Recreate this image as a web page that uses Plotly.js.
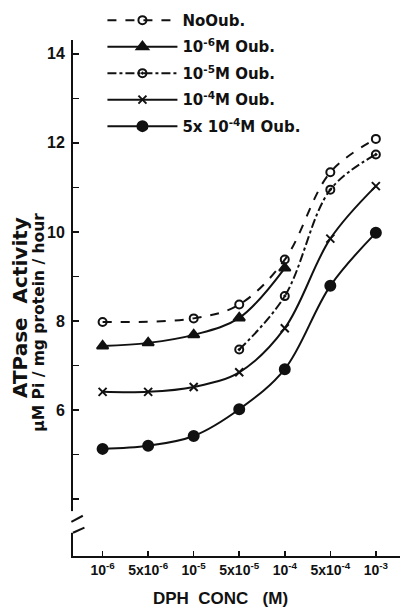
<!DOCTYPE html>
<html>
<head>
<meta charset="utf-8">
<script src="https://cdn.plot.ly/plotly-3.0.1.min.js"></script>
<style>html,body{margin:0;padding:0;background:#fff;}#chart{width:404px;height:614px;}</style>
</head>
<body>
<div id="chart"></div>
<script>
// Categories (DPH concentration, M) and tick labels
const concentrations = ['1e-6', '5e-6', '1e-5', '5e-5', '1e-4', '5e-4', '1e-3'];
const concLabels = ['10<sup>-6</sup>', '5x10<sup>-6</sup>', '10<sup>-5</sup>', '5x10<sup>-5</sup>', '10<sup>-4</sup>', '5x10<sup>-4</sup>', '10<sup>-3</sup>'];

// Series: ATPase activity (µM Pi / mg protein / hour)
const noOubX = ['1e-6', '1e-5', '5e-5', '1e-4', '5e-4', '1e-3'];
const noOubY = [7.98, 8.06, 8.37, 9.38, 11.34, 12.09];

const oub1e6X = ['1e-6', '5e-6', '1e-5', '5e-5', '1e-4'];
const oub1e6Y = [7.44, 7.51, 7.69, 8.07, 9.19];

const oub1e5X = ['5e-5', '1e-4', '5e-4', '1e-3'];
const oub1e5Y = [7.36, 8.56, 10.95, 11.74];

const oub1e4X = ['1e-6', '5e-6', '1e-5', '5e-5', '1e-4', '5e-4', '1e-3'];
const oub1e4Y = [6.41, 6.41, 6.52, 6.85, 7.84, 9.85, 11.03];

const oub5e4X = ['1e-6', '5e-6', '1e-5', '5e-5', '1e-4', '5e-4', '1e-3'];
const oub5e4Y = [5.13, 5.20, 5.42, 6.02, 6.92, 8.79, 9.98];

const seriesNames = ['NoOub.', '10<sup>-6</sup>M Oub.', '10<sup>-5</sup>M Oub.', '10<sup>-4</sup>M Oub.', '5x 10<sup>-4</sup>M Oub.'];

const yTickVals = [4, 5, 6, 7, 8, 9, 10, 11, 12, 13, 14];
const yTickText = ['', '', '6', '', '8', '', '10', '', '12', '', '14'];

const black = '#111';
function tr(x, y, name, sym, size, dash, grp) {
  return {
    x: x, y: y, name: name, type: 'scatter', mode: 'lines+markers',
    legendgroup: grp,
    line: {color: black, width: 2, dash: dash, shape: 'spline', smoothing: 1},
    marker: {symbol: sym, size: size, color: black, line: {color: black, width: 2}},
    cliponaxis: false
  };
}

const data = [
  tr(noOubX, noOubY, seriesNames[0], 'circle-open', 8, 'dash', 'a'),
  tr(oub1e6X, oub1e6Y, seriesNames[1], 'triangle-up', 10, 'solid', 'b'),
  tr(oub1e5X, oub1e5Y, seriesNames[2], 'circle-open-dot', 8, 'dashdot', 'c'),
  tr(oub1e4X, oub1e4Y, seriesNames[3], 'x-thin', 8, 'solid', 'd'),
  tr(oub5e4X, oub5e4Y, seriesNames[4], 'circle', 10, 'solid', 'e')
];

const fontFam = '"Liberation Sans", Arial, sans-serif';
const wideFam = '"DejaVu Sans", sans-serif';

const layout = {
  width: 404, height: 614,
  margin: {l: 73, r: 4, t: 29, b: 58},
  paper_bgcolor: '#fff', plot_bgcolor: '#fff',
  font: {family: fontFam, color: black},
  showlegend: true,
  legend: {
    x: 0.09, y: 1.07, xanchor: 'left', yanchor: 'top',
    bgcolor: 'rgba(0,0,0,0)', borderwidth: 0,
    font: {family: wideFam, size: 15, color: black, weight: 'bold'},
    itemwidth: 70, tracegroupgap: 4, traceorder: 'grouped'
  },
  xaxis: {
    type: 'category', categoryorder: 'array', categoryarray: concentrations,
    tickvals: concentrations, ticktext: concLabels,
    range: [-0.65, 6.53],
    showline: true, linecolor: black, linewidth: 2,
    ticks: 'inside', ticklen: 5, tickwidth: 1.5, tickcolor: black,
    showgrid: false, zeroline: false,
    tickfont: {family: fontFam, size: 14, color: black, weight: 'bold'},
    fixedrange: true
  },
  yaxis: {
    range: [2.725, 14.31],
    tickvals: yTickVals, ticktext: yTickText,
    showline: true, linecolor: black, linewidth: 2,
    ticks: 'inside', ticklen: 6, tickwidth: 1.5, tickcolor: black,
    showgrid: false, zeroline: false,
    tickfont: {family: fontFam, size: 16, color: black, weight: 'bold'},
    ticklabelstandoff: 3,
    fixedrange: true
  },
  annotations: [
    {xref: 'paper', yref: 'paper', x: 0.45, y: -0.06, xanchor: 'center', yanchor: 'top',
     text: 'DPH  CONC   (M)', showarrow: false,
     font: {family: fontFam, size: 17, color: black, weight: 'bold'}},
    {xref: 'paper', yref: 'paper', x: -0.16, y: 0.482, xanchor: 'center', yanchor: 'middle',
     text: 'ATPase  Activity', showarrow: false, textangle: -90,
     font: {family: wideFam, size: 20, color: black, weight: 'bold'}},
    {xref: 'paper', yref: 'paper', x: -0.105, y: 0.4535, xanchor: 'center', yanchor: 'middle',
     text: '\u00b5M Pi / mg protein / hour', showarrow: false, textangle: -90,
     font: {family: wideFam, size: 15.5, color: black, weight: 'bold'}}
  ],
  shapes: [
    {type: 'rect', xref: 'paper', yref: 'paper', x0: -0.02, x1: 0.015, y0: 0.045, y1: 0.087,
     fillcolor: '#fff', line: {width: 0}, layer: 'above'},
    {type: 'line', xref: 'paper', yref: 'paper', x0: -0.005, x1: 0.03, y0: 0.066, y1: 0.078,
     line: {color: black, width: 2}, layer: 'above'},
    {type: 'line', xref: 'paper', yref: 'paper', x0: 0, x1: 0.035, y0: 0.045, y1: 0.055,
     line: {color: black, width: 2}, layer: 'above'}
  ]
};

Plotly.newPlot('chart', data, layout, {displayModeBar: false, staticPlot: true});
</script>
</body>
</html>
